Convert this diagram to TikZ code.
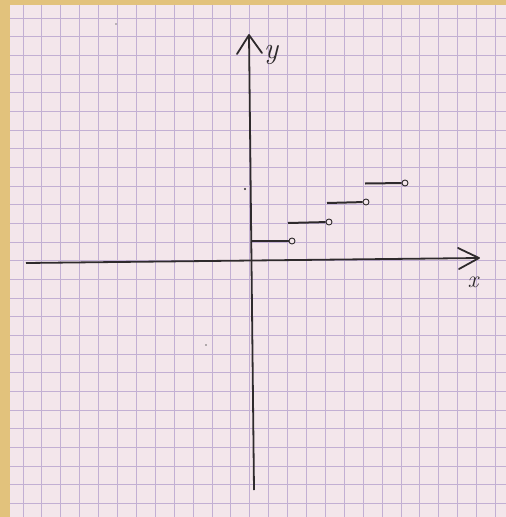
\documentclass[tikz,border=0pt]{standalone}
\usepackage{tikz}
\definecolor{border}{HTML}{E2C27C}
\definecolor{paper}{HTML}{F3E6EB}
\definecolor{gridc}{HTML}{C2AFD3}
\definecolor{ink}{HTML}{2E2A2C}
\tikzset{
  axisline/.style={ink, line width=1.8pt},
  stepline/.style={ink, line width=2pt},
  opendot/.style={circle, draw=ink, fill=paper, line width=0.9pt, inner sep=0pt, minimum size=6pt},
  gridline/.style={gridc, line width=1pt},
  lbl/.style={ink, font=\itshape\fontsize{30}{32}\selectfont}
}
\begin{document}
\begin{tikzpicture}[x=1pt,y=-1pt]
\useasboundingbox (0,0) rectangle (506,517);
\fill[border] (0,0) rectangle (506,517);
\fill[paper] (10,5) rectangle (506,517);
% grid
\foreach \k in {0,...,25} {
  \draw[gridline] ({23+18.9*\k},5) -- ({23+18.9*\k},517);
}
\foreach \k in {0,...,26} {
  \draw[gridline] (10,{18+18.67*\k}) -- (506,{18+18.67*\k});
}
% axes
\coordinate (xl) at (26,263);
\coordinate (xr) at (479,258);
\coordinate (yb) at (254,490);
\coordinate (yt) at (249,35);
\coordinate (xa1) at (458,248);
\coordinate (xa2) at (459,269);
\coordinate (ya1) at (237,54);
\coordinate (ya2) at (262,53);
\draw[axisline] (xl) -- (xr);
\draw[axisline, line cap=round, line join=round] (xa1) -- (xr) -- (xa2);
\draw[axisline] (yb) -- (yt);
\draw[axisline, line cap=round, line join=round] (ya1) -- (yt) -- (ya2);
\node[lbl] (ylab) at (271,55) {y};
\node[lbl, font=\itshape\fontsize{24}{26}\selectfont] (xlab) at (473,282) {x};
% steps
\node[opendot] (c1) at (292,241) {};
\node[opendot] (c2) at (329,222) {};
\node[opendot] (c3) at (366,202) {};
\node[opendot] (c4) at (405,183) {};
\coordinate (s1) at (251,241);
\coordinate (s2) at (288,223);
\coordinate (s3) at (327,203);
\coordinate (s4) at (365,183.5);
\draw[stepline] (s1) -- (c1);
\draw[stepline] (s2) -- (c2);
\draw[stepline] (s3) -- (c3);
\draw[stepline] (s4) -- (c4);
% specks
\fill[ink] (245,189) circle (1.2pt);
\fill[ink!70] (206,345) circle (0.8pt);
\fill[ink!60] (116,24) circle (0.8pt);
\end{tikzpicture}
\end{document}
